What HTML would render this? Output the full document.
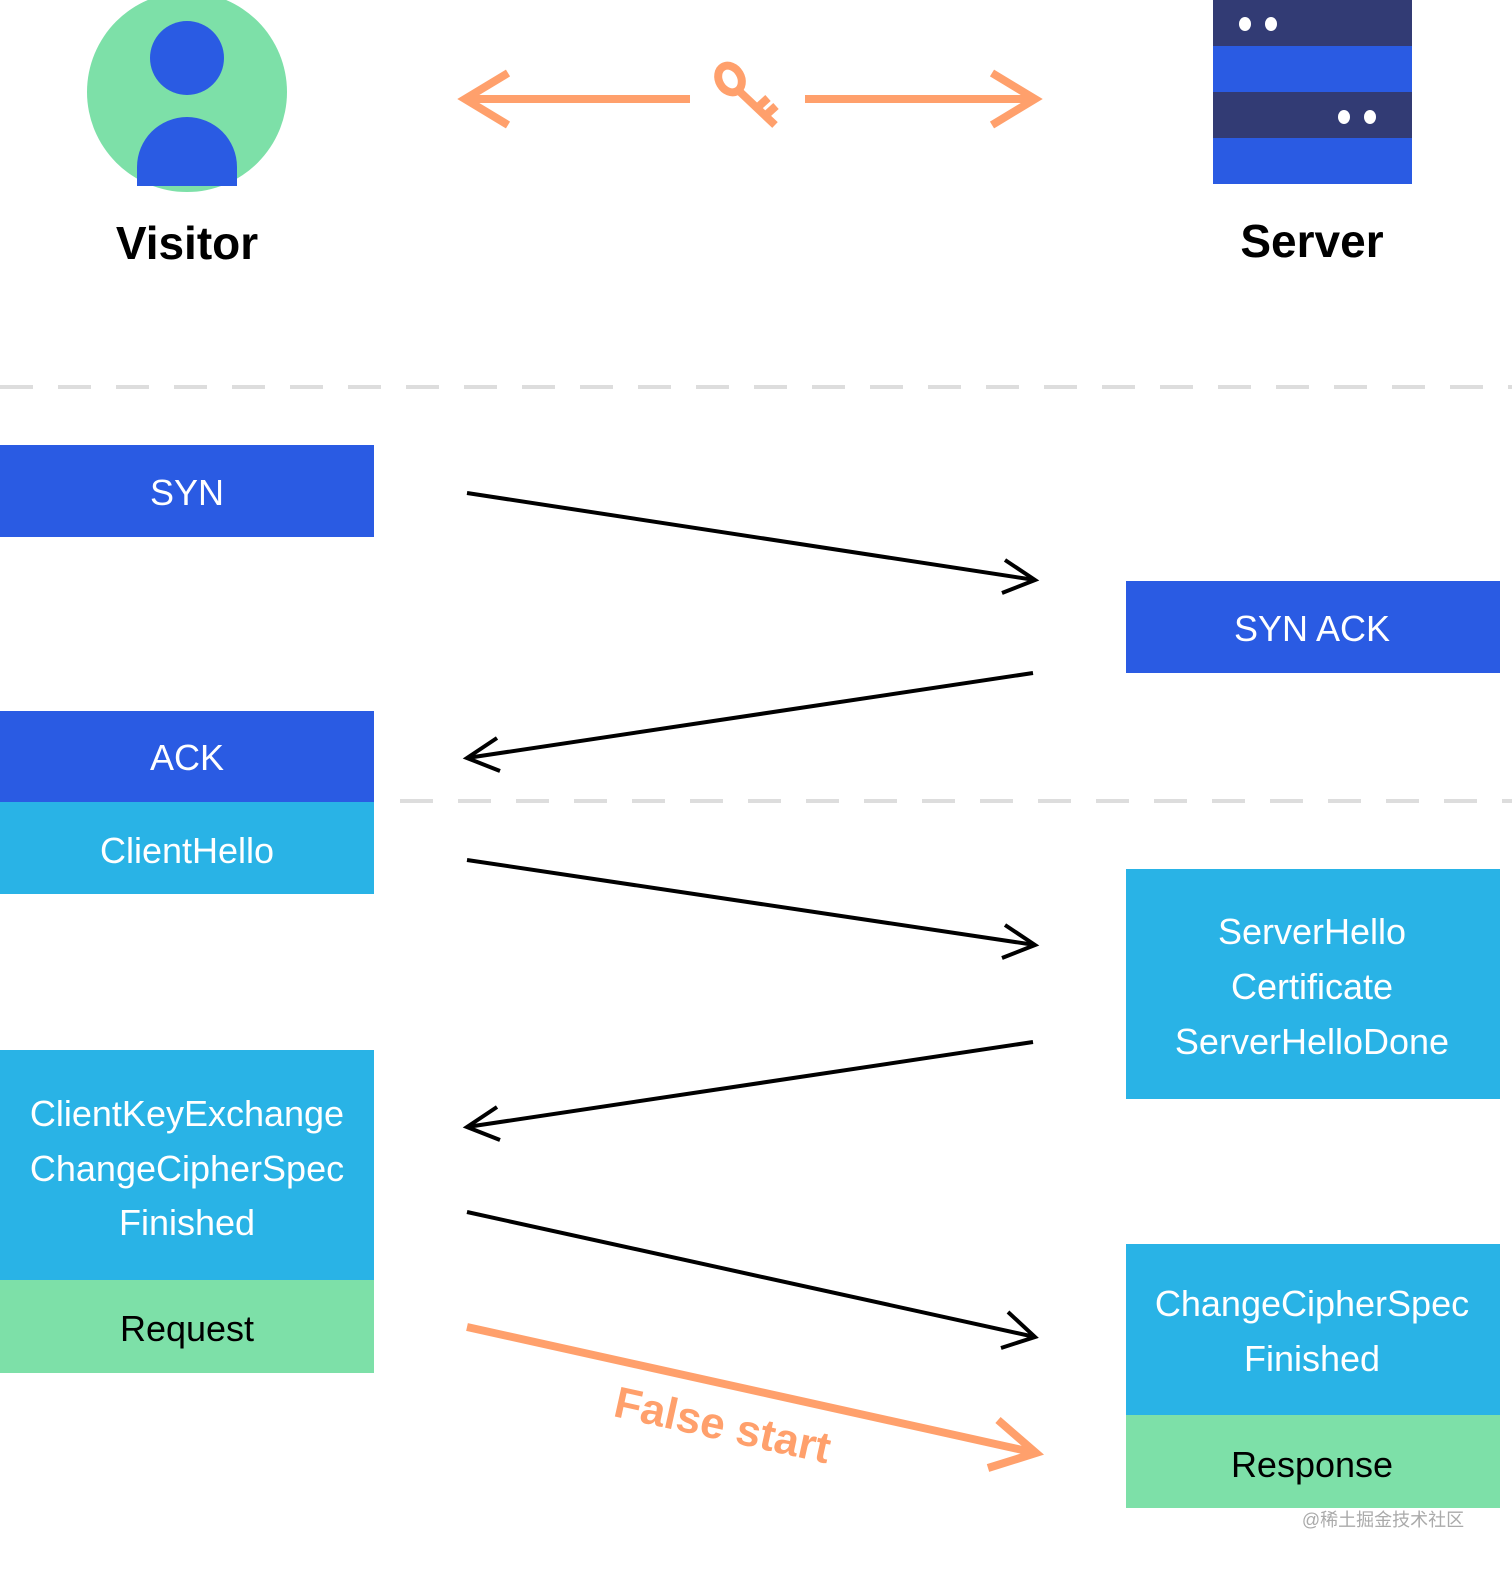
<!DOCTYPE html>
<html><head><meta charset="utf-8"><style>
html,body{margin:0;padding:0;background:#fff;overflow:hidden;width:1512px;height:1579px;}
svg{display:block;}
text{font-family:"Liberation Sans","DejaVu Sans",sans-serif;}
</style></head><body>
<svg width="1512" height="1579" viewBox="0 0 1512 1579" xmlns="http://www.w3.org/2000/svg">
<circle cx="187" cy="92" r="100" fill="#7de0a8"/>
<circle cx="187" cy="58" r="37" fill="#2a5be3"/>
<path d="M137 186 L137 167 A50 50 0 0 1 237 167 L237 186 Z" fill="#2a5be3"/>
<text x="187" y="259" font-size="46" font-weight="bold" text-anchor="middle" fill="#000">Visitor</text>
<rect x="1213" y="0" width="199" height="46" fill="#323b74"/>
<rect x="1213" y="46" width="199" height="46" fill="#2a5be3"/>
<rect x="1213" y="92" width="199" height="46" fill="#323b74"/>
<rect x="1213" y="138" width="199" height="46" fill="#2a5be3"/>
<ellipse cx="1245" cy="24" rx="6" ry="7" fill="#fff"/>
<ellipse cx="1271" cy="24" rx="6" ry="7" fill="#fff"/>
<ellipse cx="1344" cy="117" rx="6" ry="7" fill="#fff"/>
<ellipse cx="1370" cy="117" rx="6" ry="7" fill="#fff"/>
<text x="1312" y="257" font-size="46" font-weight="bold" text-anchor="middle" fill="#000">Server</text>
<g stroke="#ffa06c" stroke-width="8" fill="none">
<line x1="465" y1="99" x2="690" y2="99"/>
<line x1="805" y1="99" x2="1035" y2="99"/>
<polyline points="508,73 465,99 508,125"/>
<polyline points="992,73 1035,99 992,125"/>
<ellipse cx="730" cy="79" rx="11" ry="14" transform="rotate(-30 730 79)"/>
<line x1="738" y1="90" x2="775" y2="125"/>
<line x1="757" y1="108" x2="768" y2="98"/>
<line x1="765" y1="116" x2="776" y2="106"/>
</g>
<line x1="0" y1="387" x2="1512" y2="387" stroke="#dddddd" stroke-width="4" stroke-dasharray="33 25"/>
<line x1="400" y1="801" x2="1512" y2="801" stroke="#dddddd" stroke-width="4" stroke-dasharray="33 25"/>
<rect x="0" y="445" width="374" height="92" fill="#2a5be3"/>
<text x="187" y="505" font-size="36" fill="#fff" text-anchor="middle">SYN</text>
<rect x="1126" y="581" width="374" height="92" fill="#2a5be3"/>
<text x="1312" y="641" font-size="36" fill="#fff" text-anchor="middle">SYN ACK</text>
<rect x="0" y="711" width="374" height="91" fill="#2a5be3"/>
<text x="187" y="770" font-size="36" fill="#fff" text-anchor="middle">ACK</text>
<rect x="0" y="802" width="374" height="92" fill="#29b3e6"/>
<text x="187" y="863" font-size="36" fill="#fff" text-anchor="middle">ClientHello</text>
<rect x="1126" y="869" width="374" height="230" fill="#29b3e6"/>
<text x="1312" y="944" font-size="36" fill="#fff" text-anchor="middle">ServerHello</text>
<text x="1312" y="999" font-size="36" fill="#fff" text-anchor="middle">Certificate</text>
<text x="1312" y="1054" font-size="36" fill="#fff" text-anchor="middle">ServerHelloDone</text>
<rect x="0" y="1050" width="374" height="230" fill="#29b3e6"/>
<text x="187" y="1126" font-size="36" fill="#fff" text-anchor="middle">ClientKeyExchange</text>
<text x="187" y="1181" font-size="36" fill="#fff" text-anchor="middle">ChangeCipherSpec</text>
<text x="187" y="1235" font-size="36" fill="#fff" text-anchor="middle">Finished</text>
<rect x="0" y="1280" width="374" height="93" fill="#7de0a8"/>
<text x="187" y="1341" font-size="36" fill="#000" text-anchor="middle">Request</text>
<rect x="1126" y="1244" width="374" height="171" fill="#29b3e6"/>
<text x="1312" y="1316" font-size="36" fill="#fff" text-anchor="middle">ChangeCipherSpec</text>
<text x="1312" y="1371" font-size="36" fill="#fff" text-anchor="middle">Finished</text>
<rect x="1126" y="1415" width="374" height="93" fill="#7de0a8"/>
<text x="1312" y="1477" font-size="36" fill="#000" text-anchor="middle">Response</text>
<text x="1383" y="1526" font-size="18" fill="#aaa" text-anchor="middle" style="font-family:'Liberation Sans','Noto Sans CJK SC',sans-serif">@稀土掘金技术社区</text>
<g stroke="#000" stroke-width="4" fill="none">
<line x1="467" y1="493" x2="1035" y2="580"/>
<polyline points="1005,560 1035,580 1002,593"/>
<line x1="1033" y1="673" x2="467" y2="758"/>
<polyline points="497,738 467,758 500,771"/>
<line x1="467" y1="860" x2="1035" y2="945"/>
<polyline points="1005,925 1035,945 1002,958"/>
<line x1="1033" y1="1042" x2="467" y2="1127"/>
<polyline points="497,1107 467,1127 500,1140"/>
<line x1="467" y1="1212" x2="1035" y2="1337"/>
<polyline points="1008,1312 1035,1337 1001,1348"/>
</g>
<g stroke="#ffa06c" stroke-width="8" fill="none">
<line x1="467" y1="1327" x2="1036" y2="1453"/>
<polyline points="998,1420 1036,1453 988,1468"/>
</g>
<text x="722" y="1440" font-size="44" font-weight="bold" fill="#ffa06c" text-anchor="middle" transform="rotate(12.5 722 1428)">False start</text>
</svg>
</body></html>
